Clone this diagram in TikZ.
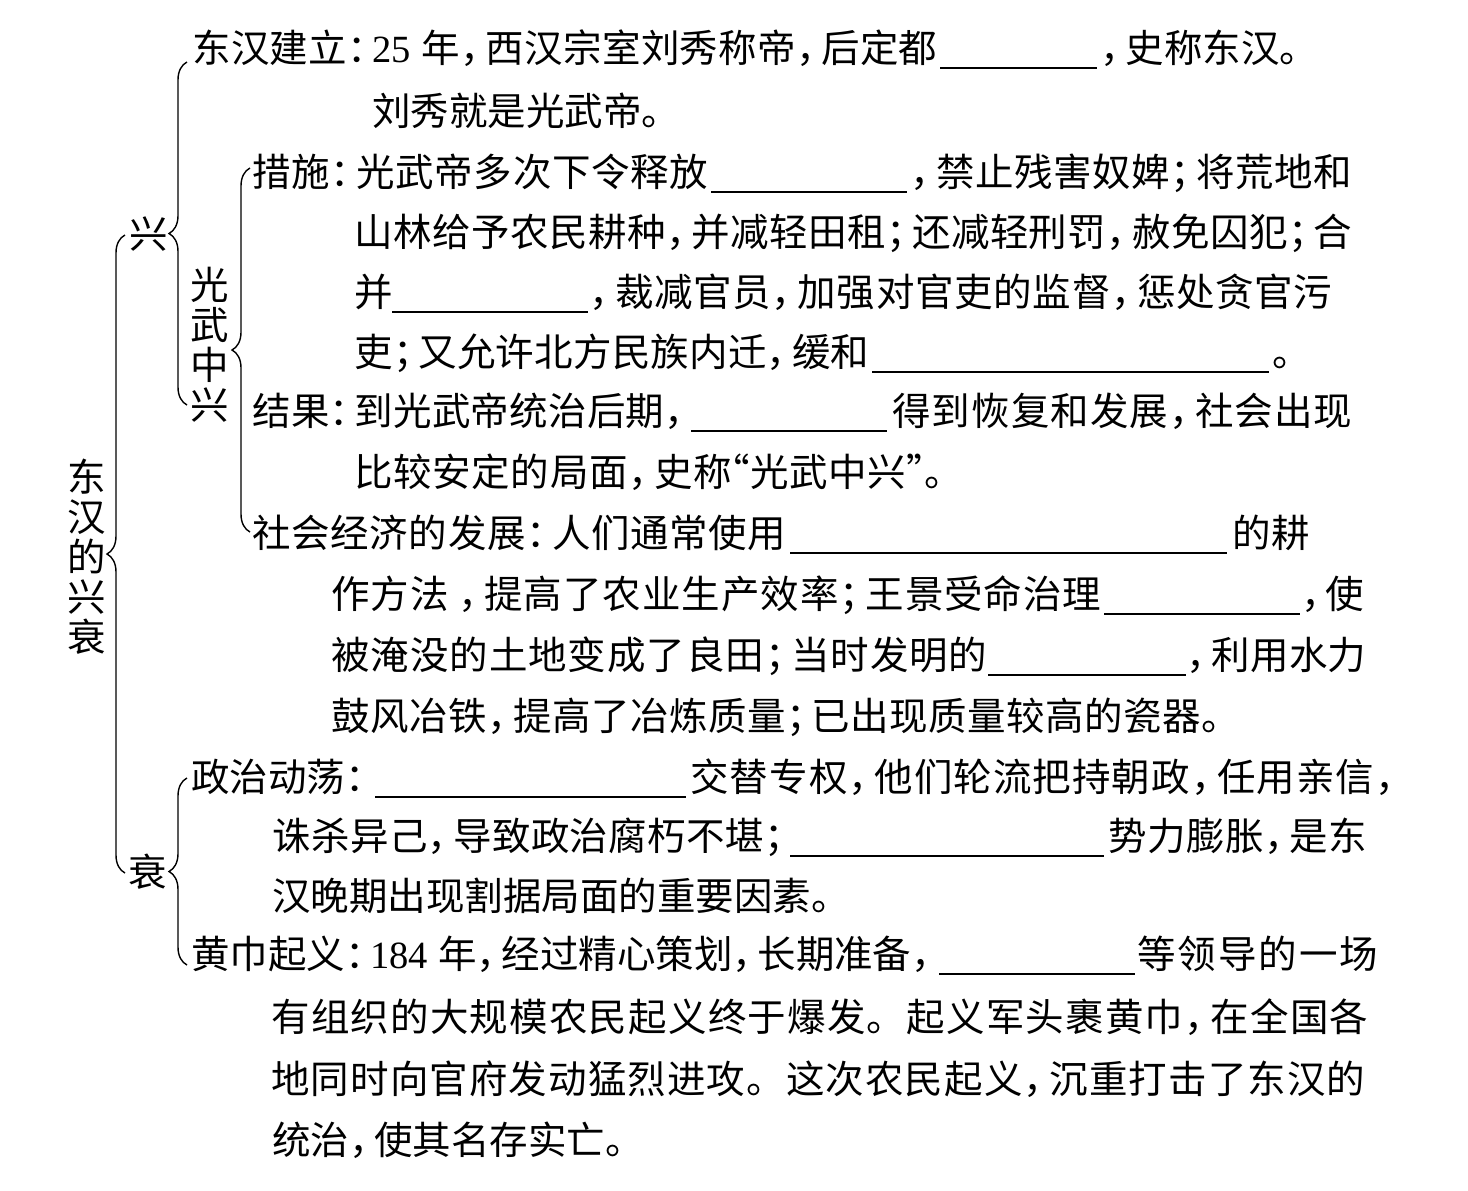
\documentclass[tikz,border=0pt]{standalone}
\usepackage{fontspec}
\setmainfont{Noto Sans CJK SC}
\newfontfamily\lat{Liberation Serif}
\usetikzlibrary{decorations.pathreplacing}
% narrow Chinese punctuation
\def\Pcm{\makebox[0.65em][l]{，}}
\def\Psm{\makebox[0.65em][l]{；}}
\def\Pcl{\makebox[0.65em][l]{：}}
\def\Qo{\makebox[0.45em][r]{“}}
\def\Qc{\makebox[0.45em][l]{”}}
\def\Pgap{\hspace{0.2em}}
\def\Yrs{{\lat 25}\hspace{0.27em}}
\def\Yrb{{\lat 184}\hspace{0.27em}}
% justify a line segment to a given width (in px of the reference)
\def\jtfirst#1{#1\jtnext}
\def\jtnext#1{\ifx\relax#1\else\hskip 0pt plus 1fil minus 2pt\relax #1\expandafter\jtnext\fi}
\newcommand\jt[2]{\hbox to \dimexpr #1pt/2\relax{\jtfirst#2\relax}}
\begin{document}
\begin{tikzpicture}[x=0.5pt,y=-0.5pt,
  tx/.style={anchor=base west, inner sep=0pt, font=\fontsize{19.25pt}{20pt}\selectfont, text=black},
  vlab/.style={anchor=center, inner sep=0pt, align=center, font=\fontsize{19.25pt}{20pt}\selectfont, text=black},
  brc/.style={decorate, decoration={brace, amplitude=9pt}, line width=0.7pt, draw=black},
  ul/.style={line width=0.8pt, draw=black}]
\fill[white] (0,0) rectangle (1468,1190);
\useasboundingbox (0,0) rectangle (1468,1190);

% vertical labels
\node[vlab] (root) at (87,557) {东\\汉\\的\\兴\\衰};
\node[vlab] (xing) at (149,234) {兴};
\node[vlab] (shuai) at (148,872) {衰};
\node[vlab] (gwzx) at (210,345) {光\\武\\中\\兴};

% braces
\coordinate (bm1) at (125,873); \coordinate (bm2) at (125,235);
\draw[brc] (bm1) -- (bm2);
\coordinate (bx1) at (187,405); \coordinate (bx2) at (187,62);
\draw[brc] (bx1) -- (bx2);
\coordinate (bg1) at (250,532); \coordinate (bg2) at (250,168);
\draw[brc] (bg1) -- (bg2);
\coordinate (bs1) at (187,965); \coordinate (bs2) at (187,778);
\draw[brc] (bs1) -- (bs2);

% line 1
\node[tx] (l1a) at (192,62) {\jt{745}{东汉建立\Pcl \Yrs 年\Pcm 西汉宗室刘秀称帝\Pcm 后定都}};
\node[tx] (l1b) at (1100,62) {\jt{218}{\Pcm 史称东汉。}};
\coordinate (u1a) at (940,68); \coordinate (u1b) at (1097,68);
\draw[ul] (u1a) -- (u1b);
% line 2
\node[tx] (l2) at (372,125) {刘秀就是光武帝。};
% line 3
\node[tx] (l3a) at (252,186) {\jt{456}{措施\Pcl 光武帝多次下令释放}};
\node[tx] (l3b) at (910,186) {\jt{442}{\Pcm 禁止残害奴婢\Psm 将荒地和}};
\coordinate (u3a) at (711,192); \coordinate (u3b) at (907,192);
\draw[ul] (u3a) -- (u3b);
% line 4
\node[tx] (l4) at (354,246) {\jt{998}{山林给予农民耕种\Pcm 并减轻田租\Psm 还减轻刑罚\Pcm 赦免囚犯\Psm 合}};
% line 5
\node[tx] (l5a) at (354,306) {并};
\node[tx] (l5b) at (589,306) {\jt{743}{\Pcm 裁减官员\Pcm 加强对官吏的监督\Pcm 惩处贪官污}};
\coordinate (u5a) at (392,312); \coordinate (u5b) at (588,312);
\draw[ul] (u5a) -- (u5b);
% line 6
\node[tx] (l6a) at (354,366) {\jt{515}{吏\Psm 又允许北方民族内迁\Pcm 缓和}};
\node[tx] (l6b) at (1272,366) {。};
\coordinate (u6a) at (872,372); \coordinate (u6b) at (1269,372);
\draw[ul] (u6a) -- (u6b);
% line 7
\node[tx] (l7a) at (252,425) {\jt{437}{结果\Pcl 到光武帝统治后期\Pcm}};
\node[tx] (l7b) at (892,425) {\jt{460}{得到恢复和发展\Pcm 社会出现}};
\coordinate (u7a) at (691,431); \coordinate (u7b) at (887,431);
\draw[ul] (u7a) -- (u7b);
% line 8
\node[tx] (l8) at (354,486) {\jt{609}{比较安定的局面\Pcm 史称\Qo 光武中兴\Qc 。}};
% line 9
\node[tx] (l9a) at (252,547) {\jt{534}{社会经济的发展\Pcl 人们通常使用}};
\node[tx] (l9b) at (1232,547) {\jt{78}{的耕}};
\coordinate (u9a) at (790,553); \coordinate (u9b) at (1227,553);
\draw[ul] (u9a) -- (u9b);
% line 10
\node[tx] (l10a) at (331,608) {\jt{770}{作方法\Pgap \Pcm 提高了农业生产效率\Psm 王景受命治理}};
\node[tx] (l10b) at (1301,608) {\jt{63}{\Pcm 使}};
\coordinate (u10a) at (1104,614); \coordinate (u10b) at (1300,614);
\draw[ul] (u10a) -- (u10b);
% line 11
\node[tx] (l11a) at (331,669) {\jt{656}{被淹没的土地变成了良田\Psm 当时发明的}};
\node[tx] (l11b) at (1186,669) {\jt{180}{\Pcm 利用水力}};
\coordinate (u11a) at (988,675); \coordinate (u11b) at (1186,675);
\draw[ul] (u11a) -- (u11b);
% line 12
\node[tx] (l12) at (331,730) {\jt{909}{鼓风冶铁\Pcm 提高了冶炼质量\Psm 已出现质量较高的瓷器。}};
% line 13
\node[tx] (l13a) at (191,791) {政治动荡\Pcl};
\node[tx] (l13b) at (690,791) {\jt{710}{交替专权\Pcm 他们轮流把持朝政\Pcm 任用亲信\Pcm}};
\coordinate (u13a) at (375,797); \coordinate (u13b) at (686,797);
\draw[ul] (u13a) -- (u13b);
% line 14
\node[tx] (l14a) at (272,850) {\jt{517}{诛杀异己\Pcm 导致政治腐朽不堪\Psm}};
\node[tx] (l14b) at (1108,850) {\jt{259}{势力膨胀\Pcm 是东}};
\coordinate (u14a) at (790,856); \coordinate (u14b) at (1104,856);
\draw[ul] (u14a) -- (u14b);
% line 15
\node[tx] (l15) at (272,910) {汉晚期出现割据局面的重要因素。};
% line 16
\node[tx] (l16a) at (191,968) {\jt{745}{黄巾起义\Pcl \Yrb 年\Pcm 经过精心策划\Pcm 长期准备\Pcm}};
\node[tx] (l16b) at (1137,968) {\jt{241}{等领导的一场}};
\coordinate (u16a) at (939,974); \coordinate (u16b) at (1135,974);
\draw[ul] (u16a) -- (u16b);
% lines 17-19
\node[tx] (l17) at (271,1031) {\jt{1097}{有组织的大规模农民起义终于爆发。起义军头裹黄巾\Pcm 在全国各}};
\node[tx] (l18) at (271,1093) {\jt{1094}{地同时向官府发动猛烈进攻。这次农民起义\Pcm 沉重打击了东汉的}};
\node[tx] (l19) at (272,1154) {统治\Pcm 使其名存实亡。};
\end{tikzpicture}
\end{document}
